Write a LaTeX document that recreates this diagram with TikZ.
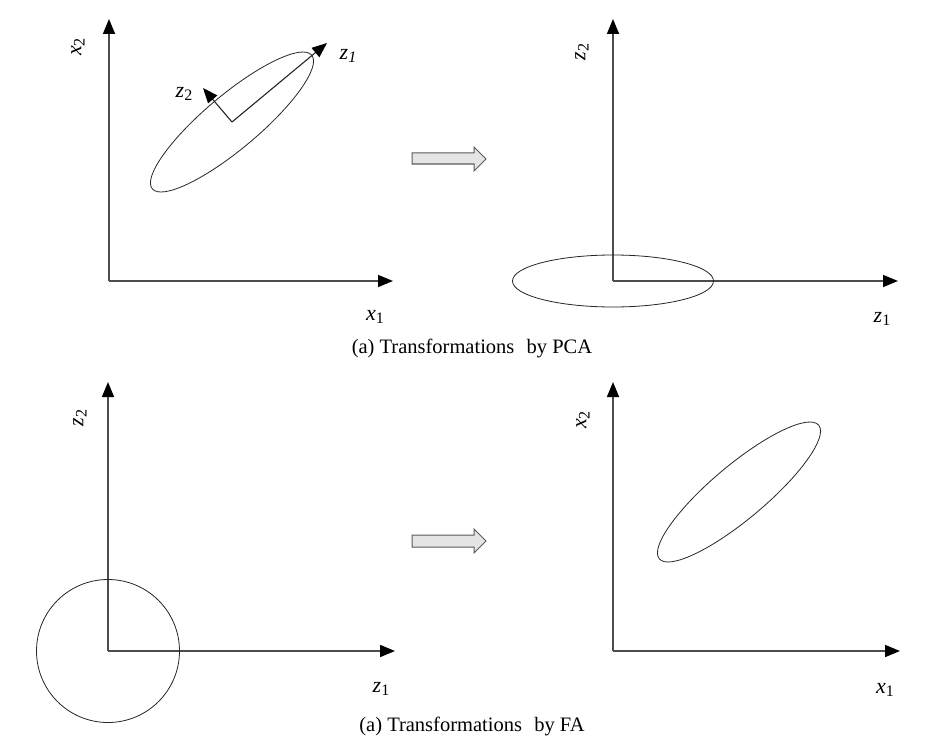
\documentclass[tikz,border=0pt]{standalone}
\usepackage{fontspec}
\setmainfont{Liberation Serif}
\usetikzlibrary{arrows.meta}
\newcommand{\axlab}[2]{{\fontsize{22}{22}\selectfont\textit{#1}}\raisebox{-0.7ex}{\fontsize{16}{16}\selectfont #2}}
\begin{document}
\begin{tikzpicture}[x=1pt,y=-1pt,
  axis/.style={draw=black!70, line width=1.6pt, -{Triangle[length=15pt,width=12pt,color=black]}},
  pcaxis/.style={draw=black!85, line width=1.1pt, -{Triangle[length=15pt,width=12pt,color=black]}},
  cloud/.style={draw=black!85, line width=0.8pt},
  fat/.style={fill=black!10, draw=black!65, line width=1pt},
  lab/.style={inner sep=0pt},
  captext/.style={inner sep=0pt, font=\fontsize{20.5}{20.5}\selectfont}]
\useasboundingbox (0,0) rectangle (937,749);
\fill[white] (0,0) rectangle (937,749);

% ---------- top-left: x1,x2 with PCA axes ----------
\coordinate (o1) at (109,281);
\coordinate (o1x) at (393,281);
\coordinate (o1y) at (109,19);
\draw[axis] (o1) -- (o1x);
\draw[axis] (o1) -- (o1y);
\coordinate (c1) at (232,122);
\draw[cloud, rotate around={40:(c1)}] (c1) ellipse [x radius=104pt, y radius=27pt];
\coordinate (z1tip) at (327,43);
\coordinate (z2tip) at (203,88);
\draw[pcaxis] (c1) -- (z1tip);
\draw[pcaxis] (c1) -- (z2tip);
\node[lab] (lx1a) at (375,317) {\axlab{x}{1}};
\node[lab, rotate=90] (lx2a) at (78,47) {\axlab{x}{2}};
\node[lab] (lz1a) at (348,56) {{\fontsize{22}{22}\selectfont\textit{z}}\raisebox{-0.7ex}{\fontsize{16}{16}\selectfont\textit{1}}};
\node[lab] (lz2a) at (184,94) {\axlab{z}{2}};

% ---------- top arrow ----------
\draw[fat] (412,153) -- (474,153) -- (474,147) -- (486,159) -- (474,171) -- (474,164) -- (412,164) -- cycle;

% ---------- top-right: z1,z2 ----------
\coordinate (o2) at (613,281);
\coordinate (o2x) at (898,281);
\coordinate (o2y) at (613,19);
\draw[axis] (o2) -- (o2x);
\draw[axis] (o2) -- (o2y);
\draw[cloud] (o2) ellipse [x radius=100.5pt, y radius=26pt];
\node[lab] (lz1b) at (882,319) {\axlab{z}{1}};
\node[lab, rotate=90] (lz2b) at (582,52) {\axlab{z}{2}};

\node[captext] (capA) at (472,348) {(a) Transformations\hspace{0.6em}by PCA};

% ---------- bottom-left: z1,z2 with circle ----------
\coordinate (o3) at (108,651);
\coordinate (o3x) at (395,651);
\coordinate (o3y) at (108,382);
\draw[axis] (o3) -- (o3x);
\draw[axis] (o3) -- (o3y);
\draw[cloud] (o3) circle [radius=71.5pt];
\node[lab] (lz1c) at (381,689) {\axlab{z}{1}};
\node[lab, rotate=90] (lz2c) at (80,418) {\axlab{z}{2}};

% ---------- bottom arrow ----------
\draw[fat] (412,535) -- (474,535) -- (474,529) -- (486,541) -- (474,553) -- (474,547) -- (412,547) -- cycle;

% ---------- bottom-right: x1,x2 ----------
\coordinate (o4) at (613,651);
\coordinate (o4x) at (900,651);
\coordinate (o4y) at (613,382);
\draw[axis] (o4) -- (o4x);
\draw[axis] (o4) -- (o4y);
\coordinate (c4) at (739,492);
\draw[cloud, rotate around={40:(c4)}] (c4) ellipse [x radius=104pt, y radius=27pt];
\node[lab] (lx1d) at (885,690) {\axlab{x}{1}};
\node[lab, rotate=90] (lx2d) at (583,420) {\axlab{x}{2}};

\node[captext] (capB) at (472,726) {(a) Transformations\hspace{0.6em}by FA};
\end{tikzpicture}
\end{document}
